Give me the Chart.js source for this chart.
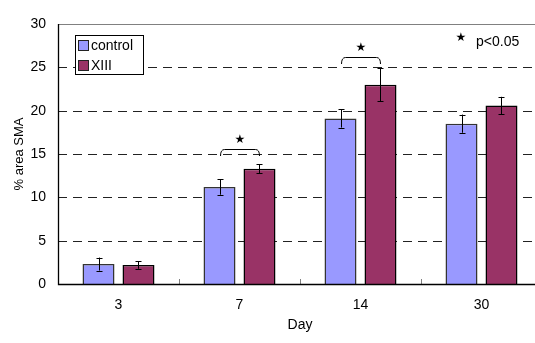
<!DOCTYPE html>
<html>
<head>
<meta charset="utf-8">
<script src="https://cdn.jsdelivr.net/npm/chart.js@4/dist/chart.umd.min.js"></script>
<style>
html,body{margin:0;padding:0;background:#fff;overflow:hidden;}
#wrap{position:relative;width:550px;height:343px;}
canvas{display:block;}
</style>
</head>
<body>
<div id="wrap"><canvas id="c" width="550" height="343" style="width:550px;height:343px"></canvas></div>
<script>
// ---- data ----
const days = ['3', '7', '14', '30'];
const controlValues = [2.3, 11.2, 19.1, 18.5];
const controlErrors = [0.75, 0.9, 1.05, 1.05];
const xiiiValues = [2.2, 13.3, 23.0, 20.6];
const xiiiErrors = [0.45, 0.5, 1.9, 1.0];
const yTicks = [0, 5, 10, 15, 20, 25, 30];
const sigDays = ['7', '14'];
const sigLevels = [15.55, 26.25];
const sigNote = 'p<0.05';

const FONT = "'Liberation Sans', Arial, sans-serif";

const errorBarPlugin = {
  id: 'errorBars',
  afterDatasetsDraw(chart) {
    const ctx = chart.ctx;
    const y = chart.scales.y;
    const errs = [controlErrors, xiiiErrors];
    ctx.save();
    ctx.strokeStyle = '#000';
    ctx.lineWidth = 1;
    chart.data.datasets.forEach((ds, di) => {
      const meta = chart.getDatasetMeta(di);
      meta.data.forEach((bar, i) => {
        const v = ds.data[i], e = errs[di][i];
        const x = Math.round(bar.x) + 0.5;
        const yt = y.getPixelForValue(v + e), yb = y.getPixelForValue(v - e);
        ctx.beginPath();
        ctx.moveTo(x, yt); ctx.lineTo(x, yb);
        ctx.moveTo(x - 3, Math.round(yt) + 0.5); ctx.lineTo(x + 3, Math.round(yt) + 0.5);
        ctx.moveTo(x - 3, Math.round(yb) + 0.5); ctx.lineTo(x + 3, Math.round(yb) + 0.5);
        ctx.stroke();
      });
    });
    ctx.restore();
  }
};

const decorPlugin = {
  id: 'decor',
  beforeDatasetsDraw(chart) {
    const ctx = chart.ctx;
    const {left, right, top, bottom} = chart.chartArea;
    const y = chart.scales.y, x = chart.scales.x;
    ctx.save();
    yTicks.forEach(t => {
      const py = Math.round(y.getPixelForValue(t)) + 0.5;
      if (t === 0) return;
      ctx.beginPath();
      if (t === 30) {
        ctx.setLineDash([]);
        ctx.strokeStyle = '#808080';
      } else {
        ctx.setLineDash([9, 6]);
        ctx.strokeStyle = '#222';
      }
      ctx.lineWidth = 1;
      ctx.moveTo(left, py); ctx.lineTo(right, py);
      ctx.stroke();
    });
    ctx.setLineDash([]);
    ctx.strokeStyle = '#808080';
    for (let i = 0; i < days.length - 1; i++) {
      const px = Math.round((x.getPixelForValue(i) + x.getPixelForValue(i + 1)) / 2) + 0.5;
      ctx.beginPath();
      ctx.moveTo(px, bottom); ctx.lineTo(px, bottom - 5);
      ctx.stroke();
    }
    ctx.restore();
  },
  afterDatasetsDraw(chart) {
    const ctx = chart.ctx;
    const {left, right, top, bottom} = chart.chartArea;
    const y = chart.scales.y;
    ctx.save();
    ctx.strokeStyle = '#000';
    ctx.lineWidth = 1.3;
    ctx.beginPath();
    ctx.moveTo(left + 0.5, top); ctx.lineTo(left + 0.5, bottom + 0.5);
    ctx.lineTo(right, bottom + 0.5);
    ctx.stroke();
    ctx.lineWidth = 1;
    const m0 = chart.getDatasetMeta(0), m1 = chart.getDatasetMeta(1);
    sigDays.forEach((d, k) => {
      const i = days.indexOf(d);
      const x1 = Math.round(m0.data[i].x) + 0.5, x2 = Math.round(m1.data[i].x) + 0.5;
      const py = Math.round(y.getPixelForValue(sigLevels[k])) + 0.5;
      const r = 4, h = 6.5;
      ctx.beginPath();
      ctx.moveTo(x1, py + h);
      ctx.quadraticCurveTo(x1, py, x1 + r, py);
      ctx.lineTo(x2 - r, py);
      ctx.quadraticCurveTo(x2, py, x2, py + h);
      ctx.strokeStyle = '#000';
      ctx.stroke();
      ctx.fillStyle = '#000';
      ctx.font = "12px 'DejaVu Sans'";
      ctx.textAlign = 'center';
      ctx.textBaseline = 'middle';
      ctx.fillText('★', (x1 + x2) / 2, py - 10);
    });
    ctx.fillStyle = '#000';
    ctx.font = "12px 'DejaVu Sans'";
    ctx.textAlign = 'center';
    ctx.textBaseline = 'middle';
    ctx.fillText('★', 461, 38);
    ctx.font = '14px ' + FONT;
    ctx.textAlign = 'left';
    ctx.fillText(sigNote, 476, 42);
    ctx.fillStyle = '#fff';
    ctx.fillRect(75.5, 35.5, 68, 39);
    ctx.strokeStyle = '#000';
    ctx.strokeRect(75.5, 35.5, 68, 39);
    chart.data.datasets.forEach((ds, k) => {
      const cy = k === 0 ? 46 : 66;
      ctx.fillStyle = ds.backgroundColor;
      ctx.fillRect(78.5, cy - 5.5, 10, 10);
      ctx.strokeStyle = '#222';
      ctx.strokeRect(78.5, cy - 5.5, 10, 10);
      ctx.fillStyle = '#000';
      ctx.font = '14px ' + FONT;
      ctx.textAlign = 'left';
      ctx.textBaseline = 'middle';
      ctx.fillText(ds.label, 91, cy);
    });
    ctx.restore();
  }
};

new Chart(document.getElementById('c'), {
  type: 'bar',
  data: {
    labels: days,
    datasets: [
      {label: 'control', data: controlValues, backgroundColor: '#9999FF', borderColor: '#333', borderWidth: 1.5,
       categoryPercentage: 0.661, barPercentage: 0.8},
      {label: 'XIII', data: xiiiValues, backgroundColor: '#993366', borderColor: '#000', borderWidth: 1.5,
       categoryPercentage: 0.661, barPercentage: 0.8}
    ]
  },
  options: {
    responsive: false,
    animation: false,
    devicePixelRatio: 1,
    layout: {padding: {top: 24, right: 8, left: 0, bottom: 0}},
    plugins: {legend: {display: false}, tooltip: {enabled: false}},
    scales: {
      x: {
        grid: {display: false, drawTicks: false},
        border: {display: false},
        ticks: {color: '#000', font: {family: FONT, size: 14}, padding: 13},
        title: {display: true, text: 'Day', color: '#000', font: {family: FONT, size: 14, lineHeight: 1.2}, padding: {top: 0, bottom: 9}},
        afterFit(s) { s.height = 59; }
      },
      y: {
        min: 0, max: 30,
        grid: {display: false, drawTicks: false},
        border: {display: false},
        ticks: {stepSize: 5, color: '#000', font: {family: FONT, size: 14}, padding: 12},
        title: {display: true, text: '% area SMA', color: '#000', font: {family: FONT, size: 13, lineHeight: 1.2}, padding: {top: 12, bottom: 0}},
        afterFit(s) { s.width = 58; }
      }
    }
  },
  plugins: [decorPlugin, errorBarPlugin]
});
</script>
</body>
</html>
